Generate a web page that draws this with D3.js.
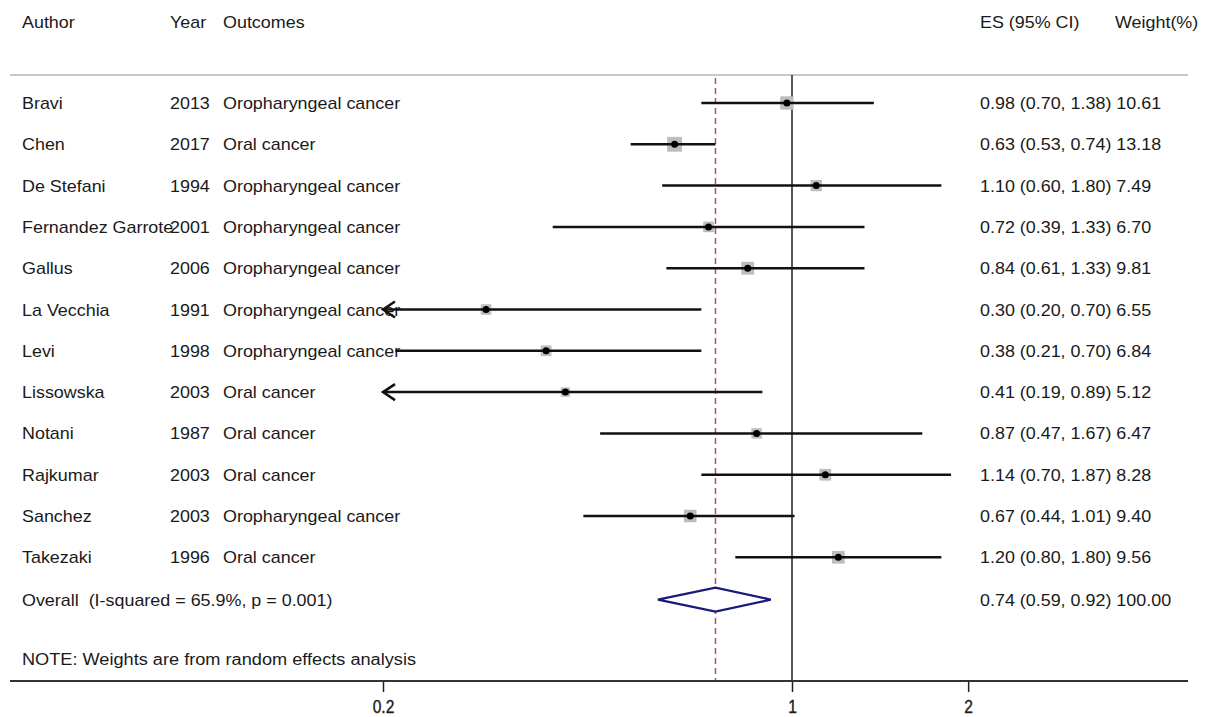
<!DOCTYPE html>
<html><head><meta charset="utf-8">
<script src="https://cdn.jsdelivr.net/npm/d3@7"></script>
<style>body{margin:0;background:#fff}svg{display:block}text{font-family:"Liberation Sans",Arial,sans-serif;fill:#1a1a1a}</style>
</head><body><svg id="c" width="1209" height="717"></svg>
<script>
const authors=["Bravi","Chen","De Stefani","Fernandez Garrote","Gallus","La Vecchia","Levi","Lissowska","Notani","Rajkumar","Sanchez","Takezaki"];
const years=["2013","2017","1994","2001","2006","1991","1998","2003","1987","2003","2003","1996"];
const outcomes=["Oropharyngeal cancer","Oral cancer","Oropharyngeal cancer","Oropharyngeal cancer","Oropharyngeal cancer","Oropharyngeal cancer","Oropharyngeal cancer","Oral cancer","Oral cancer","Oral cancer","Oropharyngeal cancer","Oral cancer"];
const es=[0.98,0.63,1.10,0.72,0.84,0.30,0.38,0.41,0.87,1.14,0.67,1.20];
const lower=[0.70,0.53,0.60,0.39,0.61,0.20,0.21,0.19,0.47,0.70,0.44,0.80];
const upper=[1.38,0.74,1.80,1.33,1.33,0.70,0.70,0.89,1.67,1.87,1.01,1.80];
const weights=["10.61","13.18","7.49","6.70","9.81","6.55","6.84","5.12","6.47","8.28","9.40","9.56"];
const overall={es:0.74,lo:0.59,hi:0.92,w:"100.00",label:"Overall\u00a0 (I-squared = 65.9%, p = 0.001)"};
const tickVals=[0.2,1,2];
const tickLabels=["0.2","1","2"];

const svg=d3.select("#c");
const x=d3.scaleLog().domain([0.2,1]).range([383,792]);
const xMin=0.2, xMax=2.6;
const row0=103, rowH=41.3;
const y=i=>row0+i*rowH;
const fs=16, SX=1.12;
const txt=(xx,yy,s,sx=SX,size=fs)=>svg.append("text").attr("transform",`translate(${xx},${yy}) scale(${sx},1)`).attr("font-size",size).text(s);

// headers
[["Author",22],["Year",170],["Outcomes",223],["ES (95% CI)",980],["Weight(%)",1115]].forEach(([t,xx])=>txt(xx,28,t));
svg.append("line").attr("x1",10).attr("x2",1188).attr("y1",75).attr("y2",75).attr("stroke","#c8c8c8").attr("stroke-width",2);

// vertical lines
svg.append("line").attr("x1",x(1)).attr("x2",x(1)).attr("y1",75).attr("y2",681).attr("stroke","#222").attr("stroke-width",1.5);
svg.append("line").attr("x1",x(overall.es)).attr("x2",x(overall.es)).attr("y1",78).attr("y2",681).attr("stroke","#b5505a").attr("stroke-width",1.5).attr("stroke-dasharray","6,4");

const fmt=d3.format(".2f");
authors.forEach((a,i)=>{
  const yy=y(i)+6;
  txt(22,yy,a); txt(170,yy,years[i]); txt(223,yy,outcomes[i]);
  txt(980,yy,`${fmt(es[i])} (${fmt(lower[i])}, ${fmt(upper[i])}) ${weights[i]}`);
});

const g=svg.append("g");
authors.forEach((a,i)=>{
  const yy=y(i);
  const s=4.1*Math.sqrt(+weights[i]);
  g.append("rect").attr("x",x(es[i])-s/2).attr("y",yy-s/2).attr("width",s).attr("height",s).attr("fill","#bdbdbd");
  const lo=Math.max(lower[i],xMin), hi=Math.min(upper[i],xMax);
  g.append("line").attr("x1",x(lo)).attr("x2",x(hi)).attr("y1",yy).attr("y2",yy).attr("stroke","#111").attr("stroke-width",2.5);
  if(lower[i]<=xMin){
    const x0=x(xMin);
    g.append("path").attr("d",`M${x0+12},${yy-8}L${x0},${yy}L${x0+12},${yy+8}`).attr("fill","none").attr("stroke","#111").attr("stroke-width",2.5);
  }
  g.append("circle").attr("cx",x(es[i])).attr("cy",yy).attr("r",3.5).attr("fill","#000");
});

// overall
const oy=y(12)+1;
txt(22,oy+6,overall.label);
txt(980,oy+6,`${fmt(overall.es)} (${fmt(overall.lo)}, ${fmt(overall.hi)}) ${overall.w}`);
svg.append("path").attr("d",`M${x(overall.lo)},${oy}L${x(overall.es)},${oy-12}L${x(overall.hi)},${oy}L${x(overall.es)},${oy+12}Z`).attr("fill","#fff").attr("stroke","#1a1a7a").attr("stroke-width",2.2);

svg.append("text").attr("x",22).attr("y",665).attr("font-size",16).attr("textLength",394).attr("lengthAdjust","spacingAndGlyphs").text("NOTE: Weights are from random effects analysis");

// axis
const axis=d3.axisBottom(x).tickValues(tickVals).tickFormat((d,i)=>tickLabels[i]).tickSize(11).tickSizeOuter(0).tickPadding(3);
const ag=svg.append("g").attr("transform","translate(0,681)").call(axis);
ag.select(".domain").remove();
ag.selectAll(".tick line").attr("stroke","#222").attr("stroke-width",1.5);
ag.selectAll(".tick text").attr("font-size",19).attr("dy","0").attr("y",32).attr("transform","scale(0.82,1)")
  .style("font-family","Liberation Sans, Arial, sans-serif").attr("fill","#222").attr("stroke","#222").attr("stroke-width",0.4);
svg.append("line").attr("x1",10).attr("x2",1188).attr("y1",681).attr("y2",681).attr("stroke","#333").attr("stroke-width",2);
</script></body></html>
